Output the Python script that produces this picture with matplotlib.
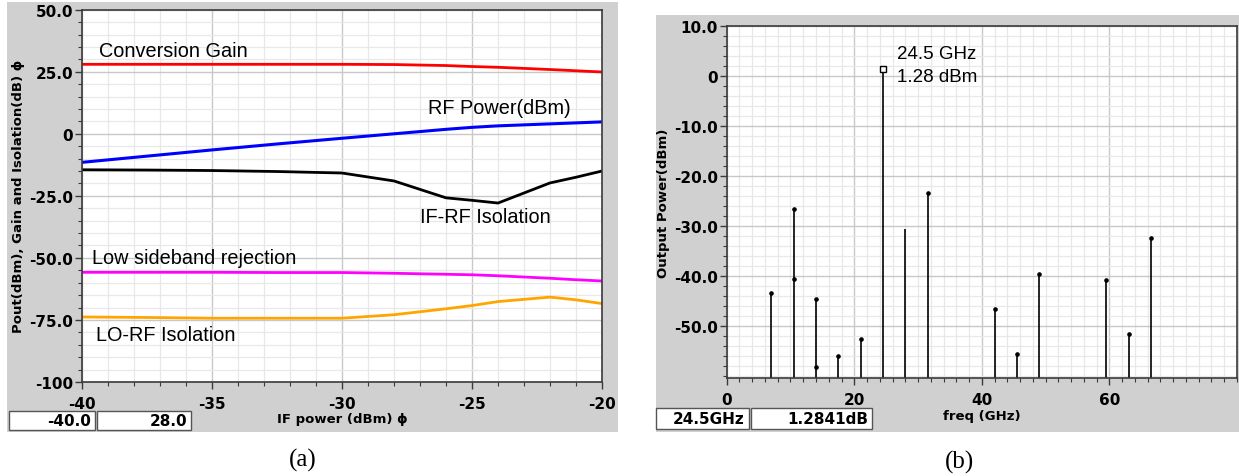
import matplotlib
matplotlib.use('Agg')
import matplotlib.pyplot as plt
from matplotlib.patches import Rectangle
from matplotlib.ticker import MultipleLocator

# ==============================================================================
# Data
# ==============================================================================

# (a) sweep of IF power
if_power = [-40, -37.5, -35, -32.5, -30, -28, -26, -25, -24, -22, -21, -20]
conv_gain = [28.0, 28.0, 28.0, 28.0, 28.0, 27.9, 27.5, 27.1, 26.8, 25.9, 25.4, 24.9]
rf_power = [-11.5, -9.0, -6.5, -4.1, -1.8, 0.0, 1.8, 2.6, 3.2, 4.0, 4.4, 4.8]
if_rf_iso = [-14.5, -14.6, -14.8, -15.2, -15.8, -19.0, -25.8, -26.8, -27.9, -19.8, -17.5, -15.0]
lsb_rej = [-55.8, -55.8, -55.8, -55.9, -55.9, -56.2, -56.6, -56.8, -57.2, -58.2, -58.8, -59.3]
lo_rf_iso = [-73.8, -74.0, -74.3, -74.3, -74.3, -72.9, -70.5, -69.2, -67.6, -65.8, -66.9, -68.4]

# (b) output spectrum
freq_ghz = [7.0, 10.5, 14.0, 17.5, 21.0, 24.5, 28.0, 31.5, 42.0, 45.5, 49.0, 59.5, 63.0, 66.5]
out_dbm = [-43.3, -26.5, -44.5, -56.0, -52.6, 1.28, -30.6, -23.4, -46.5, -55.6, -39.6, -40.8, -51.6, -32.4]
has_dot = [True, True, True, True, True, False, False, True, True, True, True, True, True, True]
sub_freq = [10.5, 14.0]
sub_dbm = [-40.5, -58.2]

W, H = 1239, 477
PANEL = '#d0d0d0'
SPINE = '#3a3a3a'
TICKFONT = dict(family='DejaVu Sans', weight='bold', size=11)
LABELFONT = dict(family='DejaVu Sans', weight='bold', size=9.5)


def px_rect(x0, y0, x1, y1):
    """pixel box (top-left origin) -> figure fraction [l, b, w, h]"""
    return [x0 / W, 1 - y1 / H, (x1 - x0) / W, (y1 - y0) / H]


def style_axes(ax):
    ax.set_facecolor('white')
    for s in ax.spines.values():
        s.set_color(SPINE)
        s.set_linewidth(1.2)
    ax.grid(which='major', color='#c8c8c8', linewidth=1.0)
    ax.grid(which='minor', color='#e8e8e8', linewidth=0.9)
    ax.set_axisbelow(True)
    ax.tick_params(which='major', direction='out', length=5, width=1, color=SPINE, pad=1.5)
    ax.tick_params(which='minor', direction='out', length=3, width=0.8, color=SPINE)
    ax.tick_params(axis='x', which='major', pad=5)
    ax.tick_params(top=False, right=False, which='both')
    for lbl in ax.get_xticklabels() + ax.get_yticklabels():
        lbl.set_fontproperties(matplotlib.font_manager.FontProperties(**TICKFONT))


def readout(fig, boxes):
    for (x0, x1, y0, y1, txt) in boxes:
        fig.add_artist(Rectangle((x0 / W, 1 - y1 / H), (x1 - x0) / W, (y1 - y0) / H,
                                 transform=fig.transFigure, facecolor='white',
                                 edgecolor='#555555', linewidth=1.0))
        fig.text((x1 - 4) / W, 1 - (y0 + y1) / 2 / H, txt, ha='right', va='center',
                 **TICKFONT)


fig = plt.figure(figsize=(W / 100, H / 100), dpi=100)

# grey panel backgrounds
fig.add_artist(Rectangle((7 / W, 1 - 433 / H), 611 / W, 430 / H, transform=fig.transFigure,
                         facecolor=PANEL, edgecolor='none', zorder=0))
fig.add_artist(Rectangle((656 / W, 1 - 433 / H), 583 / W, 417 / H, transform=fig.transFigure,
                         facecolor=PANEL, edgecolor='none', zorder=0))

# ==============================================================================
# (a) conversion gain / isolation vs IF power
# ==============================================================================
ax1 = fig.add_axes(px_rect(82, 10.7, 602, 383))
ax1.plot(if_power, conv_gain, color='#ff0000', lw=2)
ax1.plot(if_power, rf_power, color='#0000ff', lw=2.2)
ax1.plot(if_power, if_rf_iso, color='black', lw=2)
ax1.plot(if_power, lsb_rej, color='#ff00ff', lw=2)
ax1.plot(if_power, lo_rf_iso, color='#ffa500', lw=2)
ax1.set_xlim(-40, -20)
ax1.set_ylim(-100, 50)
ax1.xaxis.set_major_locator(MultipleLocator(5))
ax1.xaxis.set_minor_locator(MultipleLocator(1))
ax1.yaxis.set_major_locator(MultipleLocator(25))
ax1.yaxis.set_minor_locator(MultipleLocator(5))
ax1.set_yticks([50, 25, 0, -25, -50, -75, -100],
               ['50.0', '25.0', '0', '-25.0', '-50.0', '-75.0', '-100'])
ax1.set_xticks([-40, -35, -30, -25, -20], ['-40', '-35', '-30', '-25', '-20'])
style_axes(ax1)
ax1.set_xlabel('IF power (dBm) \u03d5', labelpad=1, **LABELFONT)
ax1.set_ylabel('Pout(dBm), Gain and Isolation(dB) \u03d5', labelpad=3, **LABELFONT)

curve_font = dict(family='Liberation Sans', size=14.3, va='baseline', ha='left')
ax1.text(-39.35, 31.2, 'Conversion Gain', **curve_font)
ax1.text(-26.7, 8.4, 'RF Power(dBm)', **curve_font)
ax1.text(-27.0, -35.6, 'IF-RF Isolation', **curve_font)
ax1.text(-39.6, -52.1, 'Low sideband rejection', **curve_font)
ax1.text(-39.45, -82.9, 'LO-RF Isolation', **curve_font)

# ==============================================================================
# (b) output spectrum
# ==============================================================================
ax2 = fig.add_axes(px_rect(726.7, 26.7, 1237, 379.3))
y_floor = -60.4
ax2.vlines(freq_ghz, y_floor, out_dbm, color='black', lw=1.2)
dot_f = [f for f, d in zip(freq_ghz, has_dot) if d]
dot_v = [v for v, d in zip(out_dbm, has_dot) if d]
ax2.plot(dot_f, dot_v, 'o', color='black', ms=2.3)
ax2.plot(sub_freq, sub_dbm, 'o', color='black', ms=2.3)
carrier = out_dbm.index(max(out_dbm))
ax2.plot([freq_ghz[carrier]], [out_dbm[carrier]], 's', mfc='white', mec='black', ms=4, mew=1)
ax2.set_xlim(0, 80)
ax2.set_ylim(y_floor, 10)
ax2.xaxis.set_minor_locator(MultipleLocator(2))
ax2.yaxis.set_minor_locator(MultipleLocator(2))
ax2.set_xticks([0, 20, 40, 60], ['0', '20', '40', '60'])
ax2.set_yticks([10, 0, -10, -20, -30, -40, -50],
               ['10.0', '0', '-10.0', '-20.0', '-30.0', '-40.0', '-50.0'])
style_axes(ax2)
ax2.set_xlabel('freq (GHz)', labelpad=1, **LABELFONT)
ax2.set_ylabel('Output Power(dBm)', labelpad=3, **LABELFONT)

ann_font = dict(family='Liberation Sans', size=13.5, va='baseline', ha='left')
ax2.text(26.7, 3.5, '24.5 GHz', **ann_font)
ax2.text(26.7, -1.0, '%.2f dBm' % out_dbm[carrier], **ann_font)

# marker readouts under each plot
readout(fig, [(9, 95, 412, 431, '-40.0'), (97, 191, 412, 431, '28.0')])
readout(fig, [(656, 749, 409, 430, '24.5GHz'), (751, 872, 409, 430, '1.2841dB')])

# captions
fig.text(303 / W, 1 - 460 / H, '(a)', ha='center', va='center',
         family='Liberation Serif', size=18)
fig.text(960 / W, 1 - 462 / H, '(b)', ha='center', va='center',
         family='Liberation Serif', size=18)

fig.savefig('out.png', dpi=100)
plt.close(fig)
